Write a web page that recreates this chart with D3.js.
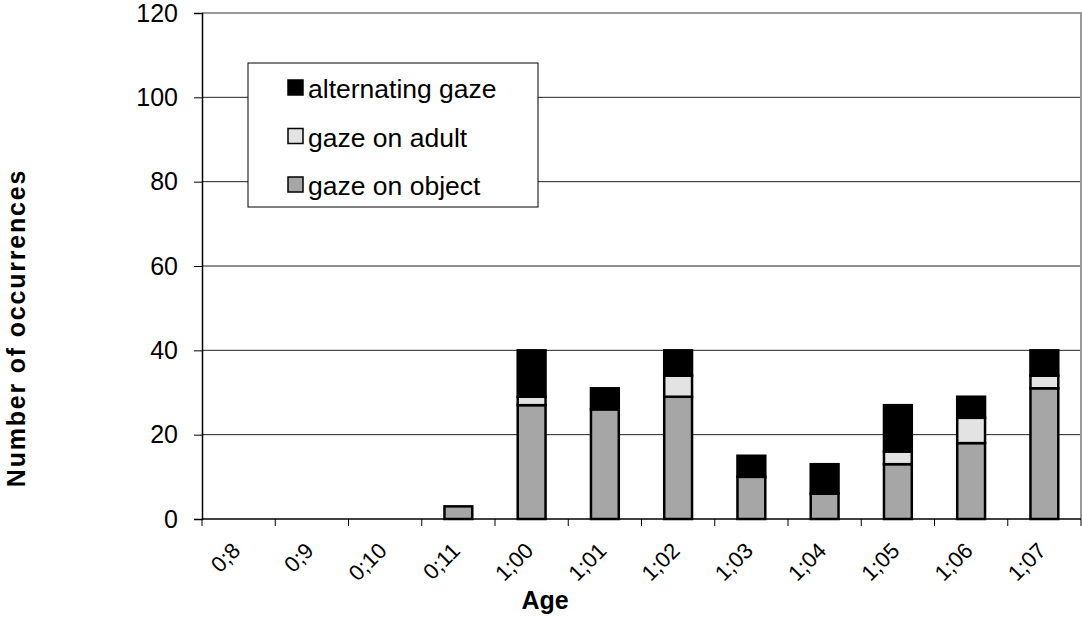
<!DOCTYPE html>
<html>
<head>
<meta charset="utf-8">
<script src="https://cdn.jsdelivr.net/npm/d3@7"></script>
<style>
  body { margin: 0; background: #fff; }
  svg { display: block; font-family: Arial, "Liberation Sans", sans-serif; }
</style>
</head>
<body>
<svg width="1082" height="618"></svg>
<script>
// values
var ages = ["0;8", "0;9", "0;10", "0;11", "1;00", "1;01", "1;02", "1;03", "1;04", "1;05", "1;06", "1;07"];
var gazeObject = [0, 0, 0, 3, 27, 26, 29, 10, 6, 13, 18, 31];
var gazeAdult  = [0, 0, 0, 0, 2, 0, 5, 0, 0, 3, 6, 3];
var altGaze    = [0, 0, 0, 0, 11, 5, 6, 5, 7, 11, 5, 6];
var yTicks = [0, 20, 40, 60, 80, 100, 120];

var seriesKeys = ["object", "adult", "alt"];
var seriesNames = {alt: "alternating gaze", adult: "gaze on adult", object: "gaze on object"};
var colors = {object: "#a6a6a6", adult: "#e3e3e3", alt: "#000000"};

var svg = d3.select("svg"),
    margin = {top: 13, right: 1, bottom: 99, left: 202},
    width = +svg.attr("width") - margin.left - margin.right,
    height = +svg.attr("height") - margin.top - margin.bottom;

var rows = ages.map(function(a, i) {
  return {age: a, object: gazeObject[i], adult: gazeAdult[i], alt: altGaze[i]};
});

var x = d3.scaleBand().domain(ages).range([0, width]);
var y = d3.scaleLinear().domain([0, 120]).range([height, 0]);

var g = svg.append("g")
  .attr("transform", "translate(" + margin.left + "," + margin.top + ")");

// gridlines
g.selectAll(".grid")
  .data(yTicks.filter(function(t) { return t > 0 && t < 120; }))
  .enter().append("line")
  .attr("x1", 0).attr("x2", width)
  .attr("y1", function(d) { return y(d); })
  .attr("y2", function(d) { return y(d); })
  .attr("stroke", "#222").attr("stroke-width", 1);

// top and right frame
g.append("path")
  .attr("d", "M0," + y(120) + "H" + width + "V" + height)
  .attr("fill", "none").attr("stroke", "#999").attr("stroke-width", 2);

// bars
var stack = d3.stack().keys(seriesKeys)(rows);
var barW = x.step() * 0.38;

g.selectAll(".layer")
  .data(stack)
  .enter().append("g")
  .attr("fill", function(d) { return colors[d.key]; })
  .selectAll("rect")
  .data(function(d) { return d.filter(function(s) { return s[1] > s[0]; }); })
  .enter().append("rect")
  .attr("x", function(d) { return x(d.data.age) + x.bandwidth() / 2 - barW / 2; })
  .attr("width", barW)
  .attr("y", function(d) { return y(d[1]); })
  .attr("height", function(d) { return y(d[0]) - y(d[1]); })
  .attr("stroke", "#000").attr("stroke-width", 2.5);

// y axis
var yAxis = g.append("g")
  .call(d3.axisLeft(y).tickValues(yTicks).tickSize(8).tickPadding(16));
yAxis.selectAll("text").style("font-size", "25px").attr("fill", "#000");
yAxis.select(".domain").attr("stroke", "#000").attr("stroke-width", 1.5);
yAxis.selectAll(".tick line").attr("stroke", "#000");

// x axis: ticks at category boundaries
var xAxis = g.append("g").attr("transform", "translate(0," + height + ")");
xAxis.append("line").attr("x1", 0).attr("x2", width).attr("stroke", "#000").attr("stroke-width", 1.5);
xAxis.selectAll(".xtick")
  .data(d3.range(ages.length + 1))
  .enter().append("line")
  .attr("x1", function(i) { return i * x.step(); })
  .attr("x2", function(i) { return i * x.step(); })
  .attr("y1", 0).attr("y2", 7)
  .attr("stroke", "#000");
xAxis.selectAll(".xlabel")
  .data(ages)
  .enter().append("text")
  .attr("text-anchor", "end")
  .attr("transform", function(d) {
    return "translate(" + (x(d) + x.bandwidth() / 2 + 3) + ",33) rotate(-45)";
  })
  .style("font-size", "22px")
  .text(function(d) { return d; });

// axis titles
svg.append("text")
  .attr("x", 545).attr("y", 609)
  .attr("text-anchor", "middle")
  .style("font-size", "25px").style("font-weight", "bold")
  .text("Age");

svg.append("text")
  .attr("transform", "translate(25,328) rotate(-90)")
  .attr("text-anchor", "middle")
  .style("font-size", "25px").style("font-weight", "bold")
  .style("letter-spacing", "1.8px")
  .text("Number of occurrences");

// legend
var legend = svg.append("g").attr("transform", "translate(248,63)");
legend.append("rect")
  .attr("width", 290).attr("height", 144)
  .attr("fill", "#fff").attr("stroke", "#000").attr("stroke-width", 1);
var items = legend.selectAll(".item")
  .data(seriesKeys.slice().reverse())
  .enter().append("g")
  .attr("transform", function(d, i) { return "translate(40," + (35 + i * 48.5) + ")"; });
items.append("rect")
  .attr("x", 0).attr("y", -18).attr("width", 15).attr("height", 15)
  .attr("fill", function(d) { return colors[d]; })
  .attr("stroke", "#000").attr("stroke-width", 1.5);
items.append("text")
  .attr("x", 20).attr("y", 0)
  .style("font-size", "26.5px")
  .text(function(d) { return seriesNames[d]; });
</script>
</body>
</html>
